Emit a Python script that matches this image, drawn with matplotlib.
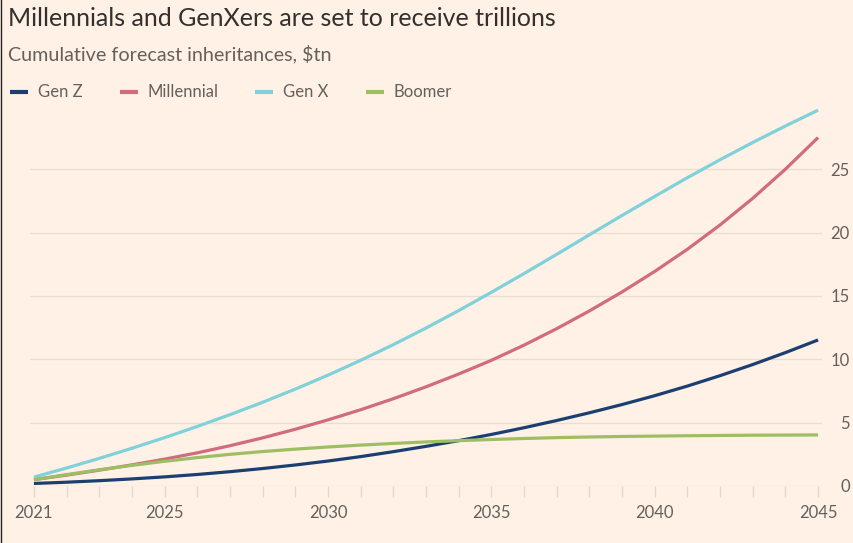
import matplotlib.pyplot as plt
from matplotlib.lines import Line2D

BG = '#FFF1E5'
GRID = '#E9DDD2'
TEXT = '#66605C'
TITLE = '#33302E'

years = list(range(2021, 2046))
gen_z = [0.2, 0.3, 0.42, 0.56, 0.72, 0.91, 1.13, 1.38, 1.66, 1.97, 2.32, 2.71, 3.13,
         3.58, 4.07, 4.6, 5.17, 5.78, 6.43, 7.13, 7.89, 8.71, 9.59, 10.53, 11.53]
millennial = [0.5, 0.86, 1.25, 1.67, 2.12, 2.62, 3.18, 3.80, 4.48, 5.22, 6.02, 6.89, 7.83,
              8.84, 9.92, 11.12, 12.42, 13.82, 15.32, 16.94, 18.69, 20.61, 22.71, 25.01, 27.51]
gen_x = [0.7, 1.42, 2.18, 2.98, 3.82, 4.7, 5.63, 6.61, 7.65, 8.75, 9.92, 11.16, 12.47,
         13.85, 15.29, 16.77, 18.29, 19.83, 21.36, 22.86, 24.34, 25.76, 27.12, 28.42, 29.67]
boomer = [0.5, 0.9, 1.28, 1.63, 1.95, 2.24, 2.5, 2.72, 2.91, 3.08, 3.23, 3.36, 3.48,
          3.58, 3.67, 3.75, 3.82, 3.87, 3.91, 3.94, 3.97, 3.99, 4.01, 4.02, 4.03]

names = ['Gen Z', 'Millennial', 'Gen X', 'Boomer']
series = [gen_z, millennial, gen_x, boomer]
colors = ['#1B3F70', '#D16B7E', '#7FD1DA', '#9DBE62']
xticks = [2021, 2025, 2030, 2035, 2040, 2045]
yticks = [0, 5, 10, 15, 20, 25]

plt.rcParams['font.family'] = ['Lato', 'DejaVu Sans']

fig = plt.figure(figsize=(8.54, 5.43), dpi=100, facecolor=BG)
ax = fig.add_axes([30 / 854, (543 - 486) / 543, 792 / 854, 380 / 543])
ax.set_facecolor(BG)

# boomer underneath, then gen z, millennial, gen x on top
for i in [3, 0, 1, 2]:
    ax.plot(years, series[i], color=colors[i], lw=2.3, solid_capstyle='butt',
            solid_joinstyle='round', clip_on=False, zorder=3 + i)

ax.set_xlim(2020.88, 2045.12)
ax.set_ylim(0, 30)
for s in ax.spines.values():
    s.set_visible(False)

ax.yaxis.tick_right()
ax.set_yticks(yticks)
ax.grid(axis='y', color=GRID, lw=1)
ax.tick_params(axis='y', length=0, pad=20, labelsize=12, labelcolor=TEXT)
for lab in ax.get_yticklabels():
    lab.set_horizontalalignment('right')

ax.set_xticks(xticks)
ax.set_xticks(years, minor=True)
ax.tick_params(axis='x', which='both', length=8, color='#E4D8CD', width=1,
               labelsize=12, labelcolor=TEXT, pad=6)

fig.text(8 / 854, 1 - 18 / 543, 'Millennials and GenXers are set to receive trillions',
         fontsize=18, color=TITLE, va='center', ha='left')
fig.text(8 / 854, 1 - 54 / 543, 'Cumulative forecast inheritances, $tn',
         fontsize=14.2, color=TEXT, va='center', ha='left')

leg_x = [10, 120, 255, 366]
for x0, name, c in zip(leg_x, names, colors):
    fig.add_artist(Line2D([x0 / 854, (x0 + 18) / 854], [1 - 92 / 543] * 2,
                          color=c, lw=3, solid_capstyle='butt'))
    fig.text((x0 + 28) / 854, 1 - 92 / 543, name, fontsize=12, color=TEXT,
             va='center', ha='left')

fig.add_artist(Line2D([0.001, 0.001], [0, 1], color='#222222', lw=1))

fig.savefig('out.png', dpi=100, facecolor=BG)
